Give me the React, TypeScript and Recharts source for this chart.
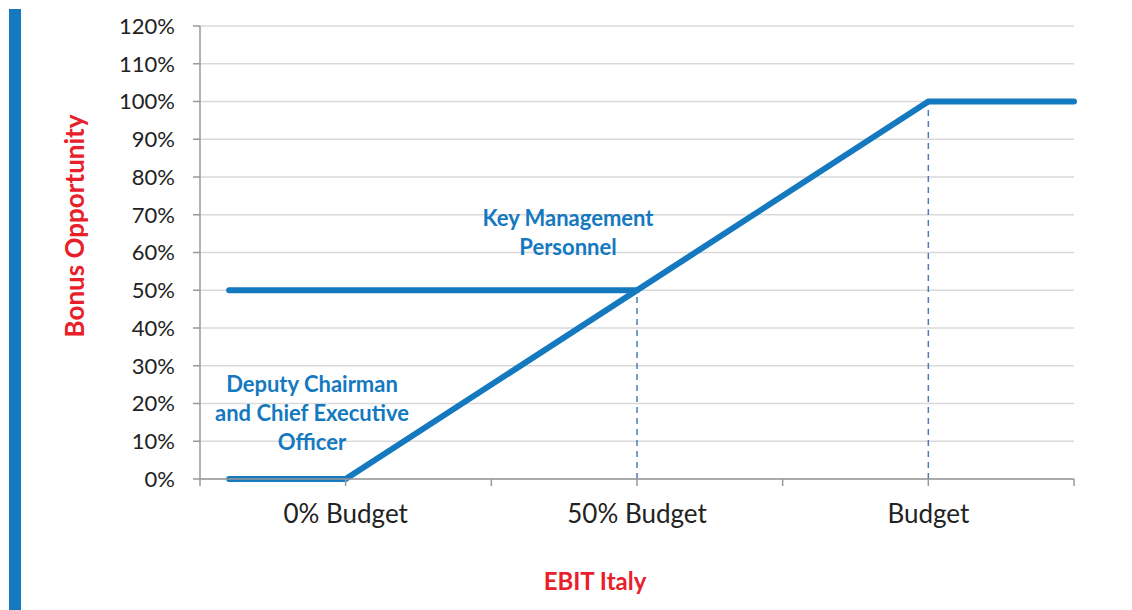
import React from 'react';
import {LineChart, Line, XAxis, YAxis, CartesianGrid} from 'recharts';

const xTicks = [0, 1, 2, 3, 4, 5, 6];
const xTickLabels: Record<number, string> = {1: '0% Budget', 3: '50% Budget', 5: 'Budget'};
const yTicks = [0, 10, 20, 30, 40, 50, 60, 70, 80, 90, 100, 110, 120];

const ceoLine = [
    {x: 0.2, y: 0},
    {x: 1, y: 0},
    {x: 5, y: 100},
    {x: 6, y: 100},
];
const kmpLine = [
    {x: 0.2, y: 50},
    {x: 3, y: 50},
];
const dropHalf = [
    {x: 3, y: 0},
    {x: 3, y: 50},
];
const dropFull = [
    {x: 5, y: 0},
    {x: 5, y: 100},
];

const BLUE = '#1479bf';
const RED = '#e8202a';
const FONT = 'Lato, "Open Sans", sans-serif';

const note: React.CSSProperties = {
    position: 'absolute', color: BLUE, fontWeight: 700, fontSize: 22,
    fontFamily: FONT, textAlign: 'center', lineHeight: '29px',
};

export default function App() {
    return (
        <div style={{position: 'absolute', left: 0, top: 0, width: 1132, height: 610, background: '#fff', overflow: 'hidden'}}>
            <div style={{position: 'absolute', left: 9, top: 9, width: 12, height: 601, background: BLUE}} />
            <LineChart width={1132} height={610} margin={{top: 26, right: 58, left: 0, bottom: 0}}>
                <CartesianGrid vertical={false} stroke="#d9d9d9" strokeWidth={1.5} />
                <XAxis type="number" dataKey="x" domain={[0, 6]} ticks={xTicks} allowDuplicatedCategory={false}
                    tickFormatter={(v: number) => xTickLabels[v] ?? ''} height={131}
                    stroke="#999" strokeWidth={1.5} tickSize={7} tickMargin={19}
                    tick={{fill: '#222', fontSize: 26, fontFamily: FONT}} />
                <YAxis type="number" domain={[0, 120]} ticks={yTicks} width={200} interval={0}
                    tickFormatter={(v: number) => `${v}%`}
                    stroke="#999" strokeWidth={1.5} tickSize={7} tickMargin={18}
                    tick={{fill: '#222', fontSize: 22, fontFamily: FONT}} />
                <Line data={dropHalf} dataKey="y" stroke="#4a7ebb" strokeWidth={1.5} strokeDasharray="6 5" dot={false} isAnimationActive={false} />
                <Line data={dropFull} dataKey="y" stroke="#4a7ebb" strokeWidth={1.5} strokeDasharray="6 5" dot={false} isAnimationActive={false} />
                <Line data={kmpLine} dataKey="y" stroke={BLUE} strokeWidth={6} strokeLinecap="round" dot={false} isAnimationActive={false} />
                <Line data={ceoLine} dataKey="y" stroke={BLUE} strokeWidth={6} strokeLinecap="round" dot={false} isAnimationActive={false} />
            </LineChart>
            <div style={{...note, left: 418, top: 203, width: 300}}>Key Management<br />Personnel</div>
            <div style={{...note, left: 162, top: 369, width: 300}}>Deputy Chairman<br />and Chief Executive<br />Officer</div>
            <div style={{position: 'absolute', left: 495, top: 566, width: 200, textAlign: 'center', color: RED, fontWeight: 700, fontSize: 24, fontFamily: FONT}}>EBIT Italy</div>
            <div style={{position: 'absolute', left: 74, top: 226, width: 0, height: 0}}>
                <div style={{position: 'absolute', left: -150, top: -16, width: 300, textAlign: 'center', transform: 'rotate(-90deg)', color: RED, fontWeight: 700, fontSize: 26, fontFamily: FONT, lineHeight: '32px'}}>Bonus Opportunity</div>
            </div>
        </div>
    );
}
